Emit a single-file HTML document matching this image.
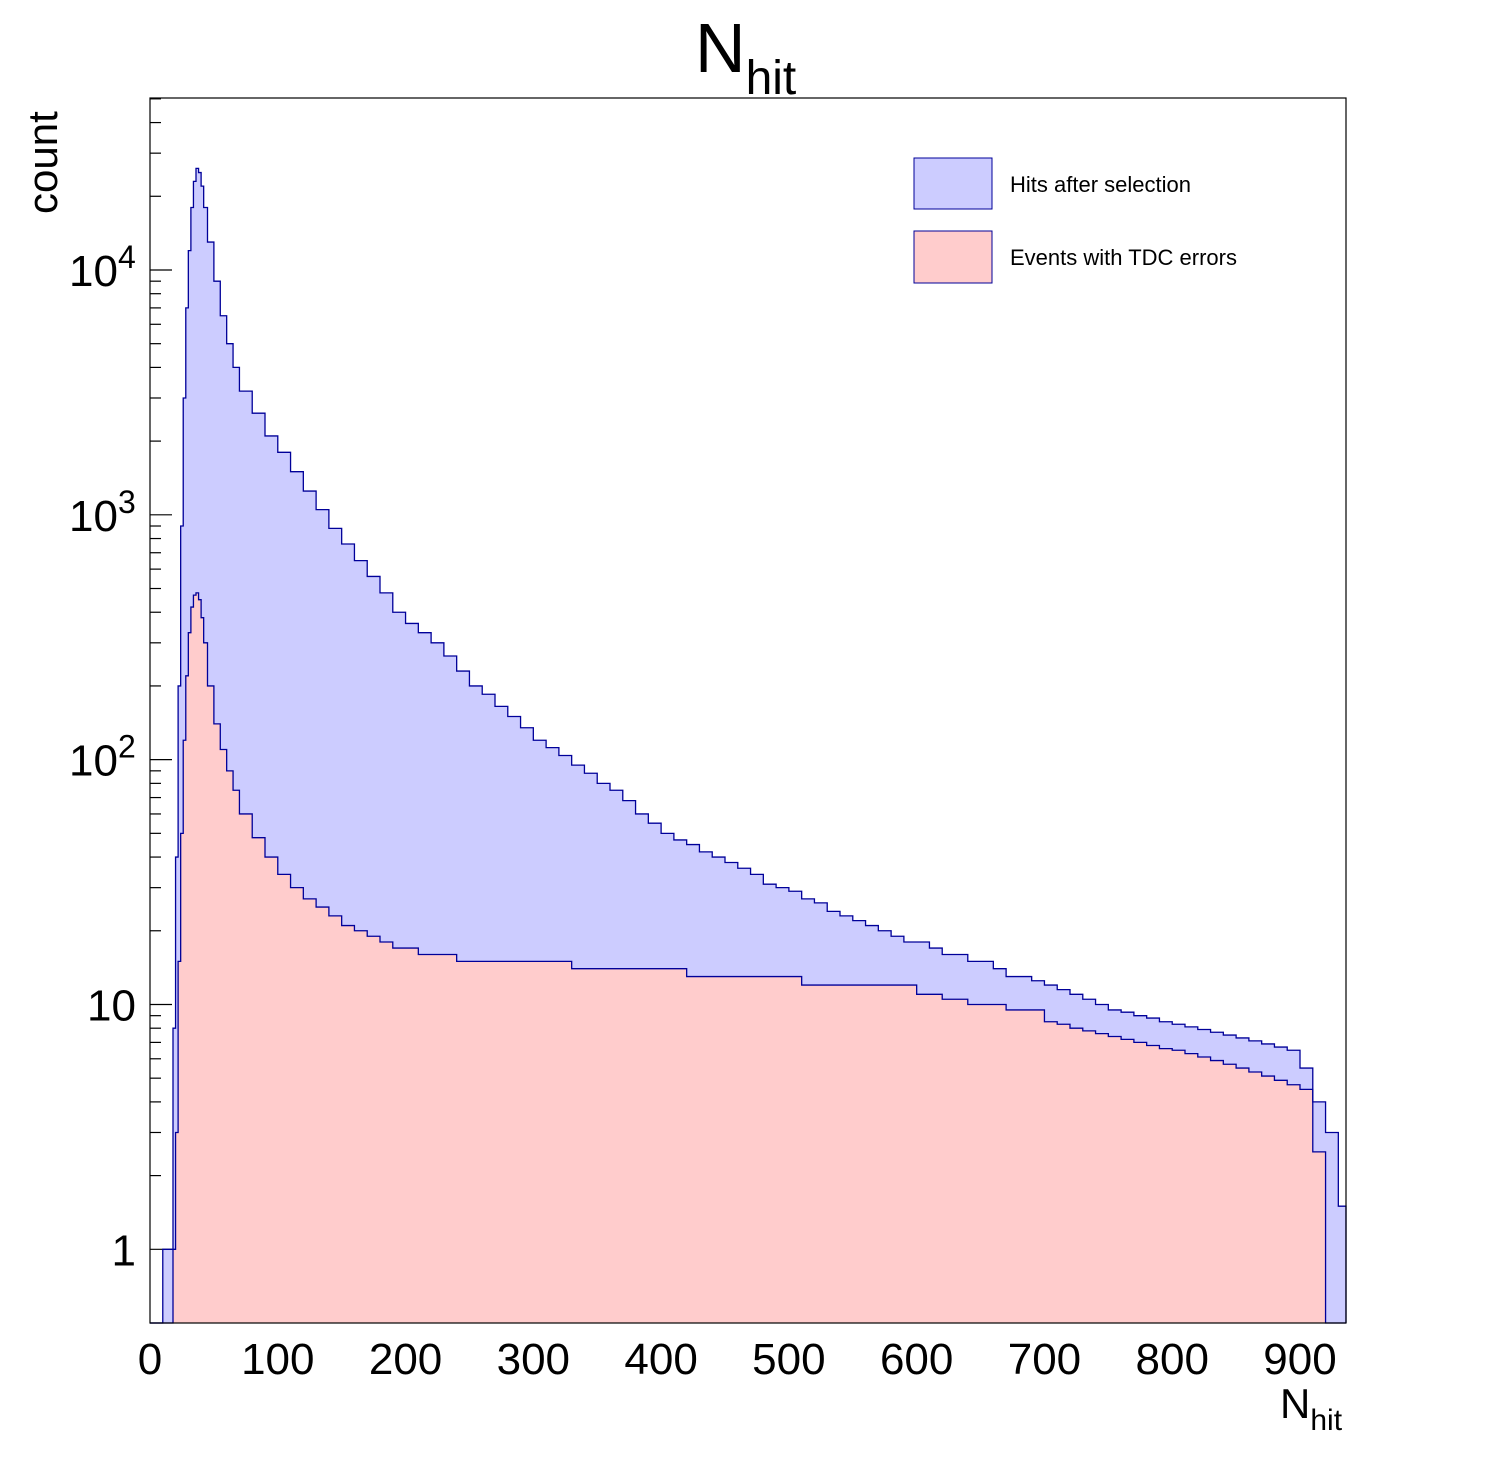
<!DOCTYPE html>
<html><head><meta charset="utf-8"><style>
body{margin:0;background:#fff;}
svg{display:block;font-family:"Liberation Sans",Arial,sans-serif;}
</style></head><body>
<svg id="chart" width="1496" height="1472" viewBox="0 0 1496 1472" xmlns="http://www.w3.org/2000/svg">
<rect width="1496" height="1472" fill="#fff"/>
<g id="ticks"></g>
<g id="hists"></g>
<rect x="150" y="98" width="1196" height="1225" fill="none" stroke="#000" stroke-width="1.2"/>
<g id="labels"></g>
<text x="695" y="72" font-size="70">N<tspan font-size="48" dy="22">hit</tspan></text>
<text transform="translate(57,214) rotate(-90)" font-size="42">count</text>
<text x="1280" y="1418" font-size="42">N<tspan font-size="30" dy="12">hit</tspan></text>
<g>
<rect x="914" y="158" width="78" height="51" fill="#ccccff" stroke="#000099" stroke-width="1"/>
<text x="1010" y="192" font-size="22">Hits after selection</text>
<rect x="914" y="231" width="78" height="52" fill="#ffcccc" stroke="#000099" stroke-width="1"/>
<text x="1010" y="265" font-size="22">Events with TDC errors</text>
</g>
</svg>
<script>
const binEdges=[0,10,15,18,20,22,24,26,28,30,32,34,36,38,40,42,45,50,55,60,65,70,80,90,100,110,120,130,140,150,160,170,180,190,200,210,220,230,240,250,260,270,280,290,300,310,320,330,340,350,360,370,380,390,400,410,420,430,440,450,460,470,480,490,500,510,520,530,540,550,560,570,580,590,600,610,620,630,640,650,660,670,680,690,700,710,720,730,740,750,760,770,780,790,800,810,820,830,840,850,860,870,880,890,900,910,920,930,936];
const hitsValues=[0,1,1,8,40,200,900,3000,7000,12000,18000,23000,26000,25000,22000,18000,13000,9000,6500,5000,4000,3200,2600,2100,
1800,1500,1250,1050,880,760,650,560,480,400,
360,330,300,265,230,200,185,165,150,135,
120,112,104,95,88,80,75,68,60,55,
50,47,45,42,40,38,36,34,31,30,
29,27,26,24,23,22,21,20,19,18,
18,17,16,16,15,15,14,13,13,12.5,
12,11.5,11,10.5,10,9.5,9.3,9,8.8,8.5,
8.3,8.1,7.9,7.7,7.5,7.3,7.1,6.9,6.7,6.5,
5.5,4,3,1.5];
const tdcValues=[0,0,0,1,3,15,50,120,220,330,420,470,480,450,380,300,200,140,110,90,75,60,48,40,
34,30,27,25,23,21,20,19,18,17,
17,16,16,16,15,15,15,15,15,15,
15,15,15,14,14,14,14,14,14,14,
14,14,13,13,13,13,13,13,13,13,
13,12,12,12,12,12,12,12,12,12,
11,11,10.5,10.5,10,10,10,9.5,9.5,9.5,
8.5,8.3,8,7.8,7.6,7.4,7.2,7,6.8,6.6,
6.5,6.3,6.1,5.9,5.7,5.5,5.3,5.1,4.9,4.7,
4.5,2.5,0,0];
const xTicks=[0,100,200,300,400,500,600,700,800,900];
const yDecades=[1,10,100,1000,10000];
const yBase=["1","10","10","10","10"];
const yExp=["","","2","3","4"];

const X0=150,X1=1346,XMIN=0,XMAX=936,Y0=1323,Y1=98,YMIN=0.5,YMAX=50400;
const NS="http://www.w3.org/2000/svg";
function sx(v){return X0+(v-XMIN)/(XMAX-XMIN)*(X1-X0);}
function sy(v){if(v<=YMIN)return Y0;const t=(Math.log10(v)-Math.log10(YMIN))/(Math.log10(YMAX)-Math.log10(YMIN));return Math.max(Y1,Y0-t*(Y0-Y1));}
function mk(tag,attrs,parent){const e=document.createElementNS(NS,tag);for(const k in attrs)e.setAttribute(k,attrs[k]);parent.appendChild(e);return e;}

const ticks=document.getElementById('ticks');
for(let d=0;d<=4;d++){
  const base=Math.pow(10,d);
  for(let m=1;m<=9;m++){
    const v=base*m; if(v>YMAX)break;
    const t=mk('line',{x1:X0,x2:X0+(m===1?22:11),y1:sy(v),y2:sy(v),stroke:'#000','stroke-width':1.2},ticks);
    
    
  }
}
const lab=document.getElementById('labels');
yDecades.forEach((v,i)=>{
  const hasExp=yExp[i]!=="";
  const t=mk('text',{x:hasExp?X0-32:X0-14,y:sy(v)+16,'font-size':44,'text-anchor':'end'},lab);
  t.textContent=yBase[i];
  
  
  if(hasExp){
    const s=mk('text',{x:X0-32,y:sy(v)-2,'font-size':32,'text-anchor':'start'},lab);
    s.textContent=yExp[i];
    
    
  }
});
xTicks.forEach(v=>{
  const t=mk('text',{x:sx(v),y:1374,'font-size':44,'text-anchor':'middle'},lab);
  t.textContent=String(v);
  
  
});

function stepPath(vals,closed){
  let d='M'+sx(binEdges[0])+','+Y0;
  for(let i=0;i<vals.length;i++){
    const y=sy(vals[i]);
    d+=' L'+sx(binEdges[i]).toFixed(2)+','+y.toFixed(2)+' L'+sx(binEdges[i+1]).toFixed(2)+','+y.toFixed(2);
  }
  d+=' L'+sx(binEdges[vals.length])+','+Y0;
  if(closed)d+=' Z';
  return d;
}
const h=document.getElementById('hists');
const hf=mk('path',{d:stepPath(hitsValues,true),fill:'#ccccff',stroke:'none'},h);


const tf=mk('path',{d:stepPath(tdcValues,true),fill:'#ffcccc',stroke:'none'},h);


const hl=mk('path',{d:stepPath(hitsValues,false),fill:'none',stroke:'#000099','stroke-width':1.3},h);


const tl=mk('path',{d:stepPath(tdcValues,false),fill:'none',stroke:'#000099','stroke-width':1.3},h);


</script>
</body></html>
